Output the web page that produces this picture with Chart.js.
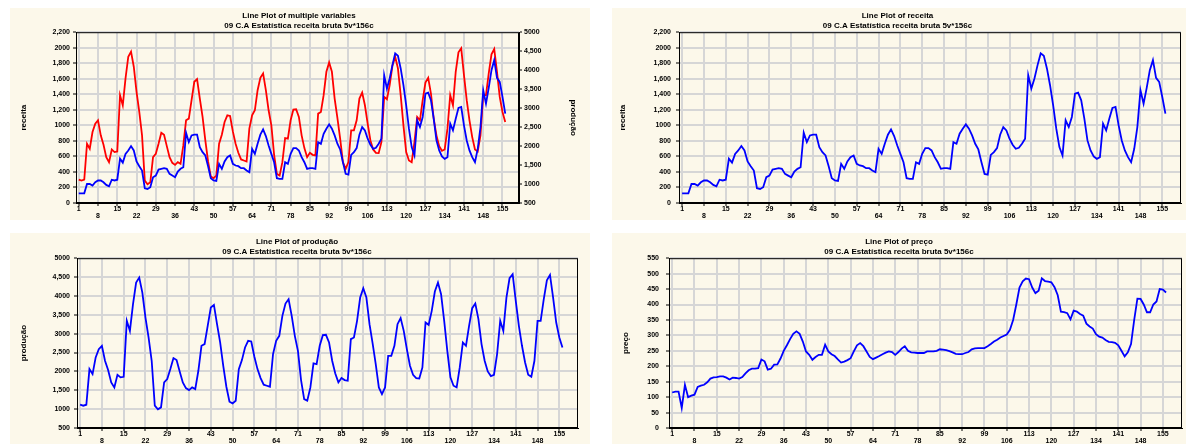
<!DOCTYPE html>
<html>
<head>
<meta charset="utf-8">
<script src="https://cdn.jsdelivr.net/npm/chart.js@4.4.0/dist/chart.umd.min.js"></script>
<style>
body { margin: 0; background: #fff; width: 1186px; height: 444px; overflow: hidden; position: relative; }
.panel { position: absolute; background: #fcf8ea; }
.panel canvas { display: block; }
</style>
</head>
<body>
<div class="panel" style="left:10px;top:8px;width:580px;height:212px"><canvas id="c1" width="580" height="212"></canvas></div>
<div class="panel" style="left:612px;top:8px;width:574px;height:212px"><canvas id="c2" width="574" height="212"></canvas></div>
<div class="panel" style="left:10px;top:233px;width:580px;height:211px"><canvas id="c3" width="580" height="211"></canvas></div>
<div class="panel" style="left:612px;top:233px;width:574px;height:211px"><canvas id="c4" width="574" height="211"></canvas></div>
<script>
// case numbers 1..156 and the tick positions on the x axis
const cases = Array.from({ length: 156 }, (_, i) => i + 1);
const xTicks = [1, 8, 15, 22, 29, 36, 43, 50, 57, 64, 71, 78, 85, 92, 99, 106, 113, 120, 127, 134, 141, 148, 155];

const receitaTicks = ["0", "200", "400", "600", "800", "1000", "1,200", "1,400", "1,600", "1,800", "2000", "2,200"];
const producaoTicks = ["500", "1000", "1,500", "2000", "2,500", "3000", "3,500", "4000", "4,500", "5000"];
const precoTicks = ["0", "50", "100", "150", "200", "250", "300", "350", "400", "450", "500", "550"];

const subtitle = "09 C.A Estatística receita bruta 5v*156c";

const receita = [
	125, 125, 125, 245, 245, 225, 267, 290, 290, 267, 233, 215, 300, 290, 300, 570, 520, 633, 677, 733,
	677, 535, 474, 418, 190, 181, 203, 332, 353, 431, 440, 448, 440, 375, 353, 332, 405, 440, 461, 905,
	784, 870, 880, 880, 720, 655, 612, 474, 319, 290, 284, 504, 440, 535, 590, 612, 504, 483, 474, 448,
	448, 418, 397, 698, 633, 763, 880, 948, 862, 741, 633, 525, 319, 310, 310, 525, 504, 633, 707, 707,
	677, 590, 525, 440, 448, 448, 440, 784, 763, 892, 957, 1013, 957, 871, 763, 690, 526, 375, 366, 620,
	655, 707, 880, 978, 935, 828, 750, 698, 711, 763, 828, 1646, 1474, 1603, 1776, 1927, 1896, 1733, 1517, 1259,
	957, 720, 612, 1065, 978, 1108, 1409, 1422, 1323, 1086, 806, 677, 600, 569, 590, 1022, 935, 1086, 1224, 1237,
	1000, 806, 677, 590, 526, 698, 978, 1452, 1280, 1483, 1711, 1840, 1612, 1560, 1366, 1151
];

const producao = [
	1117, 1091, 1117, 2061, 1929, 2370, 2590, 2679, 2282, 2035, 1708, 1576, 1911, 1841, 1858, 3340, 3075, 3781, 4354, 4487,
	4090, 3428, 2899, 2282, 1091, 994, 1047, 1708, 1797, 2061, 2352, 2299, 1999, 1708, 1558, 1505, 1576, 1532, 2017, 2679,
	2723, 3208, 3693, 3763, 3252, 2767, 2149, 1594, 1197, 1153, 1223, 2061, 2299, 2634, 2810, 2793, 2387, 2061, 1823, 1647,
	1620, 1594, 2458, 2810, 2943, 3472, 3799, 3913, 3472, 2943, 2546, 1770, 1267, 1223, 1576, 2211, 2193, 2679, 2961, 2970,
	2767, 2282, 1946, 1708, 1823, 1770, 1752, 2855, 2899, 3340, 3957, 4204, 3957, 3252, 2740, 2193, 1576, 1400, 1576, 2414,
	2414, 2679, 3252, 3411, 3075, 2590, 2149, 1911, 1823, 1814, 2105, 3296, 3234, 3605, 4116, 4354, 4046, 3340, 2546, 1841,
	1620, 1576, 2105, 2767, 2679, 3208, 3675, 3799, 3384, 2723, 2282, 1999, 1876, 1911, 2458, 3340, 3075, 3957, 4469, 4575,
	3869, 3208, 2679, 2237, 1911, 1858, 2282, 3340, 3340, 3913, 4416, 4557, 3957, 3296, 2899, 2634
];

const preco = [
	115, 118, 118, 65, 140, 100, 105, 108, 133, 137, 140, 148, 160, 164, 165, 167, 167, 163, 157, 163,
	162, 160, 165, 177, 187, 192, 192, 194, 222, 216, 189, 192, 205, 206, 225, 250, 268, 288, 305, 313,
	305, 280, 248, 237, 221, 230, 237, 237, 270, 248, 239, 233, 222, 212, 215, 220, 226, 248, 268, 275,
	265, 248, 230, 223, 228, 233, 239, 244, 248, 246, 237, 246, 257, 265, 250, 245, 244, 243, 243, 243,
	248, 248, 248, 250, 255, 254, 252, 249, 245, 240, 239, 239, 243, 246, 255, 258, 259, 259, 259, 265,
	272, 280, 286, 293, 298, 303, 318, 350, 400, 455, 475, 484, 482, 455, 437, 445, 485, 476, 474, 472,
	456, 430, 377, 375, 372, 352, 380, 377, 369, 364, 338, 329, 322, 304, 296, 293, 285, 279, 278, 276,
	268, 250, 232, 245, 272, 350, 419, 418, 400, 375, 375, 400, 410, 450, 448, 439
];

const font = "'Liberation Sans', Arial, sans-serif";
const tickFont = { family: font, size: 7, weight: "bold", lineHeight: 1 };
const titleFont = { family: font, size: 8, weight: "bold", lineHeight: 1.2 };
const gridColor = "#d6d6d6";

function points(values) {
	return values.map((v, i) => ({ x: cases[i], y: v }));
}

// draws the dark frame round the plot area
const frame = {
	id: "frame",
	afterDraw(chart) {
		const a = chart.chartArea;
		const ctx = chart.ctx;
		ctx.save();
		ctx.strokeStyle = "#000";
		ctx.lineWidth = 1;
		ctx.strokeRect(a.left + 0.5, a.top + 0.5, a.right - a.left - 1, a.bottom - a.top - 1);
		ctx.restore();
	},
};

function xScale(h) {
	return {
		type: "linear",
		min: 0,
		max: 161,
		afterBuildTicks: (s) => { s.ticks = xTicks.map((v) => ({ value: v })); },
		afterFit: (s) => { s.height = h; },
		ticks: {
			autoSkip: false,
			maxRotation: 0,
			padding: 0,
			font: tickFont,
			color: "#000",
			callback: (v) => {
				const k = xTicks.indexOf(v);
				return k % 2 == 0 ? [String(v), ""] : ["", String(v)];
			},
		},
		grid: { color: gridColor, lineWidth: 2, tickLength: 3, tickColor: "#000", tickWidth: 1 },
		border: { color: "#000", width: 1 },
	};
}

function yScale(labels, min, step, title, pos, width, titlePad, tickPad, grid) {
	return {
		type: "linear",
		position: pos,
		min: min,
		max: min + step * (labels.length - 1),
		afterBuildTicks: (s) => { s.ticks = labels.map((t, k) => ({ value: min + k * step })); },
		afterFit: (s) => { s.width = width; },
		ticks: { font: tickFont, color: "#000", padding: tickPad, callback: (v, k) => labels[k] },
		grid: { color: gridColor, lineWidth: 2, tickLength: 3, tickColor: "#000", tickWidth: 1, drawOnChartArea: grid },
		border: { color: "#000", width: 1 },
		title: { display: true, text: title, font: titleFont, color: "#000", padding: { top: titlePad, bottom: 0 } },
	};
}

function lineSet(values, color, axis) {
	return {
		data: points(values),
		borderColor: color,
		borderWidth: 1.8,
		pointRadius: 0,
		tension: 0,
		yAxisID: axis,
	};
}

function makeChart(id, title, datasets, scales, padding) {
	const ctx = document.getElementById(id).getContext("2d");
	return new Chart(ctx, {
		type: "line",
		data: { datasets: datasets },
		options: {
			responsive: false,
			animation: false,
			devicePixelRatio: 1,
			layout: { padding: padding },
			plugins: {
				legend: { display: false },
				tooltip: { enabled: false },
				title: { display: true, text: title, font: titleFont, color: "#000", padding: { top: 2, bottom: 0 } },
				subtitle: { display: true, text: subtitle, font: titleFont, color: "#000", padding: { top: 0, bottom: 2 } },
			},
			scales: scales,
		},
		plugins: [frame],
	});
}

makeChart("c1", "Line Plot of multiple variables",
	[lineSet(receita, "#0000ff", "y"), lineSet(producao, "#ff0000", "y1")],
	{
		x: xScale(17),
		y: yScale(receitaTicks, 0, 200, "receita", "left", 60, 3, 3, true),
		y1: yScale(producaoTicks, 500, 500, "produção", "right", 63, 4, 2, false),
	},
	{ left: 6, right: 8, top: 1, bottom: 0 });

makeChart("c2", "Line Plot of receita",
	[lineSet(receita, "#0000ff", "y")],
	{
		x: xScale(17),
		y: yScale(receitaTicks, 0, 200, "receita", "left", 65, 4, 5, true),
	},
	{ left: 2, right: 5, top: 1, bottom: 0 });

makeChart("c3", "Line Plot of produção",
	[lineSet(producao, "#0000ff", "y")],
	{
		x: xScale(16),
		y: yScale(producaoTicks, 500, 500, "produção", "left", 61, 3, 4, true),
	},
	{ left: 6, right: 12, top: 2, bottom: 0 });

makeChart("c4", "Line Plot of preço",
	[lineSet(preco, "#0000ff", "y")],
	{
		x: xScale(16),
		y: yScale(precoTicks, 0, 50, "preço", "left", 53, 5, 7, true),
	},
	{ left: 4, right: 4, top: 2, bottom: 0 });
</script>
</body>
</html>
